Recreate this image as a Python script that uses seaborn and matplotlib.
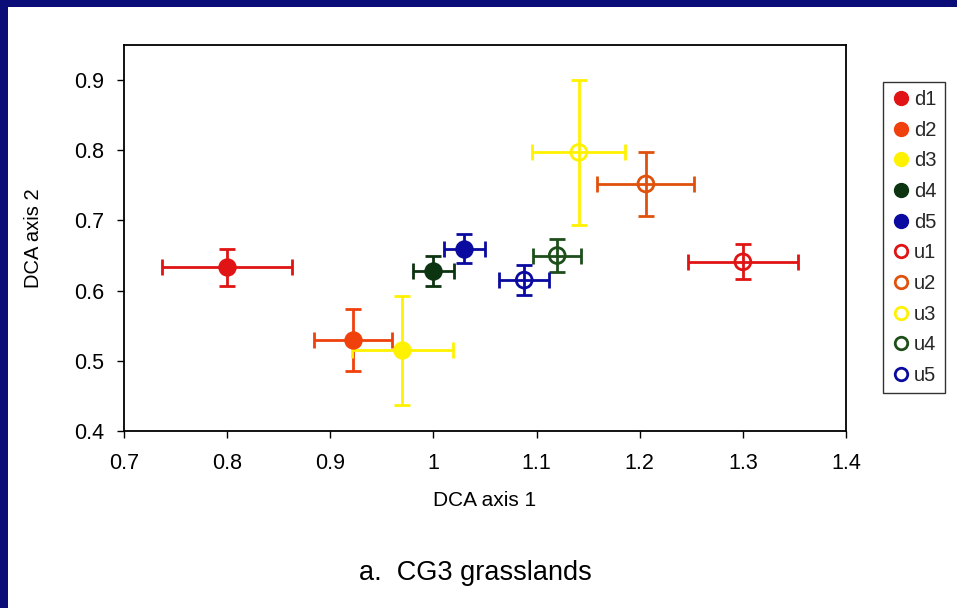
import matplotlib
matplotlib.use("Agg")
import matplotlib.pyplot as plt
import seaborn as sns
import pandas as pd
from matplotlib.lines import Line2D
from matplotlib.patches import Rectangle

labels = ["d1", "d2", "d3", "d4", "d5", "u1", "u2", "u3", "u4", "u5"]
axis1 = [0.800, 0.922, 0.970, 1.000, 1.030, 1.300, 1.206, 1.141, 1.120, 1.088]
axis2 = [0.633, 0.530, 0.515, 0.628, 0.660, 0.641, 0.752, 0.797, 0.650, 0.615]
err1 = [0.063, 0.038, 0.049, 0.020, 0.020, 0.053, 0.047, 0.045, 0.023, 0.024]
err2 = [0.027, 0.044, 0.078, 0.021, 0.020, 0.025, 0.046, 0.103, 0.023, 0.021]
filled = [True, True, True, True, True, False, False, False, False, False]
colors = ["#e01414", "#f0400c", "#fff200", "#0c3410", "#0a0aa0",
          "#e01414", "#e0520c", "#fff200", "#1e4e1a", "#0a0aa0"]
xticks = [0.7, 0.8, 0.9, 1.0, 1.1, 1.2, 1.3, 1.4]
xticklabels = ["0.7", "0.8", "0.9", "1", "1.1", "1.2", "1.3", "1.4"]
yticks = [0.4, 0.5, 0.6, 0.7, 0.8, 0.9]
yticklabels = ["0.4", "0.5", "0.6", "0.7", "0.8", "0.9"]

sns.set_theme(style="white")
plt.rcParams["font.family"] = ["Liberation Sans", "DejaVu Sans"]

df = pd.DataFrame({"label": labels, "x": axis1, "y": axis2})

fig = plt.figure(figsize=(9.57, 6.08), dpi=100, facecolor="white")
fig.patches.append(Rectangle((0, 0), 8 / 957, 1, transform=fig.transFigure,
                             facecolor="#0a0c78", edgecolor="none", zorder=0))
fig.patches.append(Rectangle((0, 1 - 7 / 608), 1, 7 / 608, transform=fig.transFigure,
                             facecolor="#0a0c78", edgecolor="none", zorder=0))

ax = fig.add_axes([124 / 957, 1 - 431 / 608, (846 - 124) / 957, (431 - 45) / 608])

for i in range(len(labels)):
    ax.errorbar(axis1[i], axis2[i], xerr=err1[i], yerr=err2[i], fmt="none",
                ecolor=colors[i], elinewidth=2, capsize=6, capthick=2, zorder=2)

for i in range(len(labels)):
    sub = df.iloc[[i]]
    if filled[i]:
        sns.scatterplot(data=sub, x="x", y="y", ax=ax, s=150, color=colors[i],
                        edgecolor=colors[i], linewidth=1, zorder=3, legend=False)
    else:
        sns.scatterplot(data=sub, x="x", y="y", ax=ax, s=130, facecolor="none",
                        edgecolor=colors[i], linewidth=2, zorder=3, legend=False)

ax.set_xlim(0.7, 1.4)
ax.set_ylim(0.4, 0.95)
ax.set_xticks(xticks)
ax.set_xticklabels(xticklabels)
ax.set_yticks(yticks)
ax.set_yticklabels(yticklabels)
ax.tick_params(axis="both", labelsize=15.5, length=5, width=1, direction="out",
               bottom=True, left=True, color="black", labelcolor="black")
ax.tick_params(axis="x", pad=11)
ax.tick_params(axis="y", pad=9)
for sp in ax.spines.values():
    sp.set_color("black")
    sp.set_linewidth(1.3)
ax.set_xlabel("DCA axis 1", fontsize=15, color="black")
ax.set_ylabel("DCA axis 2", fontsize=14.5, color="black")
ax.xaxis.set_label_coords(0.5, (431 - 491) / 386)
ax.yaxis.set_label_coords((43 - 124) / 722, 0.5)

handles = []
for i in range(len(labels)):
    if filled[i]:
        h = Line2D([], [], linestyle="none", marker="o", markersize=10,
                   markerfacecolor=colors[i], markeredgecolor=colors[i])
    else:
        h = Line2D([], [], linestyle="none", marker="o", markersize=9,
                   markerfacecolor="none", markeredgecolor=colors[i], markeredgewidth=2)
    handles.append(h)
leg = fig.legend(handles, labels, loc="upper left",
                 bbox_to_anchor=(883 / 957, 1 - 82 / 608), fontsize=14.5,
                 frameon=True, fancybox=False, handletextpad=0.15,
                 handlelength=1.0, borderpad=0.4, labelspacing=0.58,
                 borderaxespad=0)
leg.get_frame().set_edgecolor("black")
leg.get_frame().set_linewidth(1)

fig.text(475 / 957, 1 - 573 / 608, "a.  CG3 grasslands", ha="center", va="center",
         fontsize=19.5, color="black")

fig.savefig("out.png", dpi=100, facecolor="white")
